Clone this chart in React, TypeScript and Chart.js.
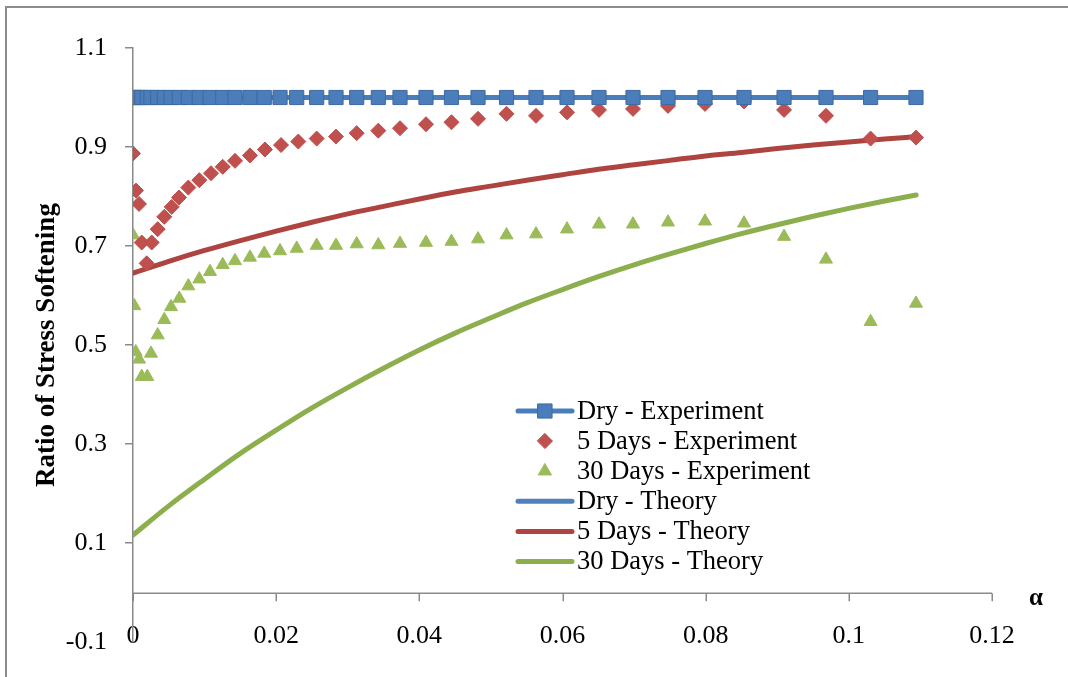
import { useEffect, useRef } from "react";
import { Chart, registerables } from "chart.js";

Chart.register(...registerables);

const FONT = "'Liberation Serif', 'Times New Roman', serif";

// ---- axis ticks ----
const xTicks = [0, 0.02, 0.04, 0.06, 0.08, 0.1, 0.12];
const xTickLabels = ["0", "0.02", "0.04", "0.06", "0.08", "0.1", "0.12"];
const yTicks = [-0.1, 0.1, 0.3, 0.5, 0.7, 0.9, 1.1];
const yTickLabels = ["-0.1", "0.1", "0.3", "0.5", "0.7", "0.9", "1.1"];

// ---- experiment data ----
const alpha5Exp = [0, 0.00042, 0.00084, 0.00122, 0.00191, 0.00261, 0.00345, 0.00437, 0.00541, 0.00643,
  0.00773, 0.00926, 0.0109, 0.01253, 0.01425, 0.01634, 0.01844, 0.02068, 0.02309, 0.02566,
  0.02836, 0.03125, 0.03427, 0.0373, 0.04093, 0.04449, 0.0482, 0.05218, 0.0563, 0.06063,
  0.0651, 0.06985, 0.07474, 0.07991, 0.08536, 0.09095, 0.09681, 0.10304, 0.10938];
const days5Exp = [0.887, 0.812, 0.785, 0.707, 0.665, 0.707, 0.734, 0.759, 0.779, 0.798,
  0.818, 0.833, 0.847, 0.86, 0.872, 0.883, 0.895, 0.904, 0.911, 0.917,
  0.921, 0.928, 0.933, 0.938, 0.946, 0.95, 0.957, 0.967, 0.963, 0.97,
  0.975, 0.977, 0.983, 0.987, 0.992, 0.975, 0.963, 0.917, 0.919];

const alpha30Exp = [0, 0.00018, 0.00038, 0.00084, 0.00122, 0.002, 0.00251, 0.00345, 0.00437, 0.00531,
  0.00647, 0.00773, 0.00926, 0.01076, 0.01253, 0.01425, 0.01634, 0.01834, 0.02054, 0.02287,
  0.02566, 0.02836, 0.03125, 0.03427, 0.0373, 0.04093, 0.04449, 0.0482, 0.05218, 0.0563,
  0.06063, 0.0651, 0.06985, 0.07474, 0.07991, 0.08536, 0.09095, 0.09681, 0.10304, 0.10938];
const days30Exp = [0.722, 0.579, 0.486, 0.471, 0.436, 0.436, 0.483, 0.52, 0.551, 0.577,
  0.594, 0.619, 0.633, 0.648, 0.662, 0.67, 0.677, 0.685, 0.69, 0.695,
  0.701, 0.701, 0.704, 0.702, 0.705, 0.707, 0.709, 0.714, 0.722, 0.724,
  0.734, 0.744, 0.744, 0.748, 0.75, 0.746, 0.719, 0.673, 0.547, 0.584];

const alphaDryExp = alpha30Exp;
const dryExp = [1, 1, 1, 1, 1, 1, 1, 1, 1, 1,
  1, 1, 1, 1, 1, 1, 1, 1, 1, 1,
  1, 1, 1, 1, 1, 1, 1, 1, 1, 1,
  1, 1, 1, 1, 1, 1, 1, 1, 1, 1];

// ---- theory data ----
const alphaTheory = [0, 0.005, 0.01, 0.015, 0.02, 0.025, 0.03, 0.035, 0.04, 0.045, 0.05, 0.055,
  0.06, 0.065, 0.07, 0.075, 0.08, 0.085, 0.09, 0.095, 0.1, 0.105, 0.1094];
const dryTheory = [1, 1, 1, 1, 1, 1, 1, 1, 1, 1, 1, 1, 1, 1, 1, 1, 1, 1, 1, 1, 1, 1, 1];
const days5Theory = [0.645, 0.669, 0.691, 0.711, 0.73, 0.748, 0.765, 0.78, 0.795, 0.809, 0.821, 0.833,
  0.844, 0.855, 0.864, 0.873, 0.882, 0.889, 0.897, 0.904, 0.91, 0.916, 0.921];
const days30Theory = [0.116, 0.175, 0.229, 0.281, 0.328, 0.373, 0.414, 0.453, 0.49, 0.524, 0.555, 0.585,
  0.612, 0.638, 0.662, 0.684, 0.705, 0.725, 0.743, 0.76, 0.776, 0.791, 0.803];

const seriesLabels = [
  "Dry - Experiment",
  "5 Days - Experiment",
  "30 Days - Experiment",
  "Dry - Theory",
  "5 Days - Theory",
  "30 Days - Theory",
];

const zip = (xs: number[], ys: number[]) => xs.map((x, i) => ({ x, y: ys[i] }));

function drawMarker(ctx: CanvasRenderingContext2D, style: string, x: number, y: number, r: number, fill: string, stroke: string) {
  ctx.save();
  ctx.fillStyle = fill;
  ctx.strokeStyle = stroke;
  ctx.lineWidth = 1;
  ctx.beginPath();
  if (style === "rect") {
    const s = r * Math.SQRT1_2;
    ctx.rect(x - s, y - s, 2 * s, 2 * s);
  } else if (style === "rectRot") {
    ctx.moveTo(x, y - r);
    ctx.lineTo(x + r, y);
    ctx.lineTo(x, y + r);
    ctx.lineTo(x - r, y);
    ctx.closePath();
  } else if (style === "triangle") {
    ctx.moveTo(x, y - r);
    ctx.lineTo(x + 0.866 * r, y + 0.5 * r);
    ctx.lineTo(x - 0.866 * r, y + 0.5 * r);
    ctx.closePath();
  }
  ctx.fill();
  ctx.stroke();
  ctx.restore();
}

const framePlugin = {
  id: "frame",
  beforeDraw(chart: any) {
    const { ctx } = chart;
    ctx.save();
    ctx.fillStyle = "#ffffff";
    ctx.fillRect(0, 0, chart.width, chart.height);
    ctx.strokeStyle = "#8c8c8c";
    ctx.lineWidth = 2;
    ctx.strokeRect(6, 7, 1200, 800);
    ctx.restore();
  },
  beforeDatasetsDraw(chart: any) {
    const { ctx, scales } = chart;
    const xs = scales.x;
    const ys = scales.y;
    const y0 = Math.round(ys.getPixelForValue(0)) + 0.25;
    ctx.save();
    ctx.strokeStyle = "#8a8a8a";
    ctx.lineWidth = 1.5;
    ctx.beginPath();
    ctx.moveTo(xs.getPixelForValue(xTicks[0]), y0);
    ctx.lineTo(xs.getPixelForValue(xTicks[xTicks.length - 1]), y0);
    for (const t of xTicks) {
      const px = Math.round(xs.getPixelForValue(t)) + 0.25;
      ctx.moveTo(px, y0);
      ctx.lineTo(px, y0 + 8);
    }
    ctx.stroke();
    // axis name alpha
    ctx.fillStyle = "#000";
    ctx.font = `bold 25px ${FONT}`;
    ctx.textAlign = "center";
    ctx.textBaseline = "middle";
    ctx.fillText("α", xs.getPixelForValue(xTicks[xTicks.length - 1]) + 44, y0 + 5);
    ctx.restore();
  },
  afterDraw(chart: any) {
    const { ctx } = chart;
    const datasets = chart.data.datasets;
    const lineX0 = 518;
    const lineX1 = 572;
    const markX = 545;
    const textX = 577;
    const rowY0 = 411;
    const rowH = 30.1;
    ctx.save();
    datasets.forEach((ds: any, i: number) => {
      const y = rowY0 + i * rowH;
      if (ds.showLine) {
        ctx.strokeStyle = ds.borderColor;
        ctx.lineWidth = ds.borderWidth;
        ctx.lineCap = "round";
        ctx.beginPath();
        ctx.moveTo(lineX0, y);
        ctx.lineTo(lineX1, y);
        ctx.stroke();
      }
      if (ds.pointRadius > 0) {
        drawMarker(ctx, ds.pointStyle, markX, y, ds.pointRadius, ds.pointBackgroundColor, ds.pointBorderColor);
      }
      ctx.fillStyle = "#000";
      ctx.font = `26.5px ${FONT}`;
      ctx.textAlign = "left";
      ctx.textBaseline = "middle";
      ctx.fillText(ds.label, textX, y + 1);
    });
    ctx.restore();
  },
};

export default function App() {
  const ref = useRef<HTMLCanvasElement>(null);

  useEffect(() => {
    if (!ref.current) return;
    Chart.defaults.font.family = FONT;
    Chart.defaults.color = "#000";
    const datasets: any[] = [
      {
        label: seriesLabels[0],
        data: zip(alphaDryExp, dryExp),
        showLine: true,
        borderColor: "#4A7EBB",
        borderWidth: 5,
        pointStyle: "rect",
        pointRadius: 10,
        pointBackgroundColor: "#4A7DBA",
        pointBorderColor: "#3D6AA3",
        pointBorderWidth: 1,
        order: 1,
      },
      {
        label: seriesLabels[1],
        data: zip(alpha5Exp, days5Exp),
        showLine: false,
        borderColor: "#C0504D",
        pointStyle: "rectRot",
        pointRadius: 7.5,
        pointBackgroundColor: "#C0504D",
        pointBorderColor: "#C0504D",
        pointBorderWidth: 1,
        order: 1,
      },
      {
        label: seriesLabels[2],
        data: zip(alpha30Exp, days30Exp),
        showLine: false,
        borderColor: "#9BBB59",
        pointStyle: "triangle",
        pointRadius: 7.5,
        pointBackgroundColor: "#9BBB59",
        pointBorderColor: "#9BBB59",
        pointBorderWidth: 1,
        order: 1,
      },
      {
        label: seriesLabels[3],
        data: zip(alphaTheory, dryTheory),
        showLine: true,
        borderColor: "#4F81BD",
        borderWidth: 5,
        borderCapStyle: "round",
        pointRadius: 0,
        order: 2,
      },
      {
        label: seriesLabels[4],
        data: zip(alphaTheory, days5Theory),
        showLine: true,
        borderColor: "#AE4440",
        borderWidth: 5,
        borderCapStyle: "round",
        cubicInterpolationMode: "monotone",
        pointRadius: 0,
        order: 2,
      },
      {
        label: seriesLabels[5],
        data: zip(alphaTheory, days30Theory),
        showLine: true,
        borderColor: "#8CAE4D",
        borderWidth: 5,
        borderCapStyle: "round",
        cubicInterpolationMode: "monotone",
        pointRadius: 0,
        order: 2,
      },
    ];

    const chart = new Chart(ref.current, {
      type: "scatter",
      data: { datasets },
      options: {
        animation: false,
        responsive: true,
        maintainAspectRatio: false,
        events: [],
        layout: { padding: { top: 48, right: 76, left: 0, bottom: 0 } },
        plugins: {
          legend: { display: false },
          tooltip: { enabled: false },
        },
        scales: {
          x: {
            type: "linear",
            position: "bottom",
            min: 0,
            max: 0.12,
            afterBuildTicks: (s: any) => {
              s.ticks = xTicks.map((v) => ({ value: v }));
            },
            afterFit: (s: any) => {
              s.height = 35;
            },
            grid: { display: false, drawTicks: false },
            border: { display: false },
            ticks: {
              mirror: true,
              padding: -10,
              autoSkip: false,
              maxRotation: 0,
              color: "#000",
              font: { size: 26 },
              callback: (_v: any, i: number) => xTickLabels[i],
            },
          },
          y: {
            type: "linear",
            position: "left",
            min: -0.1,
            max: 1.1,
            afterBuildTicks: (s: any) => {
              s.ticks = yTicks.map((v) => ({ value: v }));
            },
            afterFit: (s: any) => {
              s.width = 133;
            },
            grid: {
              drawOnChartArea: false,
              drawTicks: true,
              tickLength: 8,
              color: (c: any) => (c.index === 0 ? "rgba(0,0,0,0)" : "#8a8a8a"),
              lineWidth: 1.5,
            },
            border: { display: true, color: "#8a8a8a", width: 1.5 },
            ticks: {
              padding: 18,
              color: "#000",
              font: { size: 26 },
              callback: (_v: any, i: number) => yTickLabels[i],
            },
            title: {
              display: true,
              text: "Ratio of Stress Softening",
              color: "#000",
              font: { size: 27, weight: "bold" },
              padding: { top: 31, bottom: 0 },
            },
          },
        },
      } as any,
      plugins: [framePlugin],
    });
    return () => chart.destroy();
  }, []);

  return (
    <div style={{ position: "fixed", left: 0, top: 0, width: 1068, height: 677, background: "#fff" }}>
      <canvas ref={ref} />
    </div>
  );
}
